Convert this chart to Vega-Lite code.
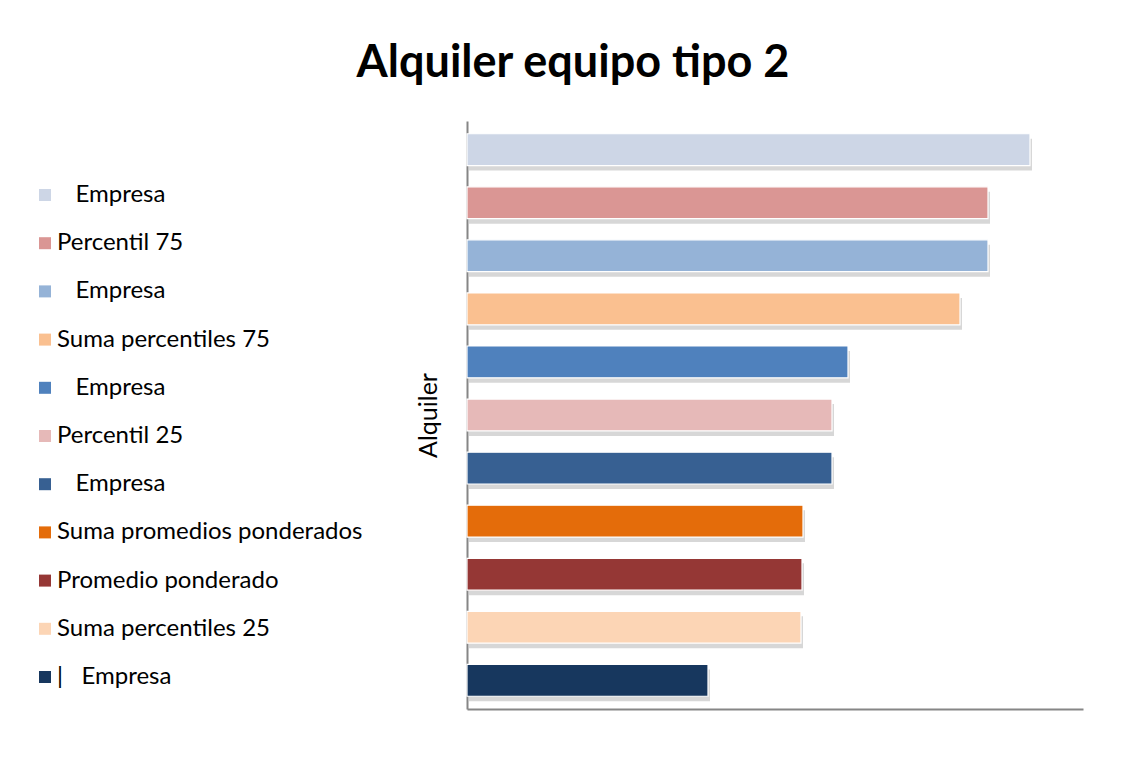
{
  "$schema": "https://vega.github.io/schema/vega-lite/v6.json",
  "autosize": {"type": "none"},
  "width": 616,
  "height": 588,
  "padding": {"left": 467, "top": 121, "right": 45, "bottom": 60},
  "background": "white",
  "title": {
    "text": "Alquiler equipo tipo 2",
    "font": "Lato",
    "fontSize": 45,
    "fontWeight": "bold",
    "color": "#000000",
    "anchor": "middle",
    "dx": -202,
    "baseline": "alphabetic",
    "offset": -1
  },
  "data": {
    "values": [
      {"id": "e1", "valor": 563},
      {"id": "p75", "valor": 521},
      {"id": "e2", "valor": 521},
      {"id": "s75", "valor": 493},
      {"id": "e3", "valor": 381},
      {"id": "p25", "valor": 365},
      {"id": "e4", "valor": 365},
      {"id": "spp", "valor": 336},
      {"id": "pp", "valor": 335},
      {"id": "s25", "valor": 334},
      {"id": "e5", "valor": 241}
    ]
  },
  "encoding": {
    "y": {
      "field": "id",
      "type": "nominal",
      "sort": null,
      "scale": {"paddingInner": 0.4, "paddingOuter": 0.24},
      "axis": {
        "title": "Alquiler",
        "titleFont": "Lato",
        "titleFontSize": 25,
        "titleFontWeight": "normal",
        "titleColor": "#000000",
        "titlePadding": 26,
        "labels": false,
        "ticks": false,
        "domainColor": "#868686",
        "domainWidth": 2
      }
    },
    "x": {
      "field": "valor",
      "type": "quantitative",
      "scale": {"domain": [0, 616], "nice": false},
      "axis": {
        "title": null,
        "labels": false,
        "ticks": false,
        "grid": false,
        "domainColor": "#868686",
        "domainWidth": 2
      }
    }
  },
  "layer": [
    {
      "mark": {"type": "bar", "color": "#8c8c8c", "opacity": 0.35, "xOffset": 2, "yOffset": 5}
    },
    {
      "mark": {"type": "bar", "stroke": "white", "strokeWidth": 1.2},
      "encoding": {
        "color": {
          "field": "id",
          "type": "nominal",
          "scale": {
            "domain": ["e1", "p75", "e2", "s75", "e3", "p25", "e4", "spp", "pp", "s25", "e5"],
            "range": ["#CDD6E6", "#DA9694", "#95B3D7", "#FAC090", "#4F81BD", "#E6B9B8", "#376092", "#E46C0A", "#953735", "#FCD5B5", "#17375E"]
          },
          "legend": {
            "title": null,
            "orient": "none",
            "legendX": -434,
            "legendY": 62,
            "symbolType": "square",
            "symbolSize": 144,
            "symbolStrokeWidth": 0,
            "labelFont": "Lato",
            "labelFontSize": 24,
            "labelColor": "#000000",
            "labelOffset": 0,
            "rowPadding": 24.2,
            "labelLimit": 500,
            "labelExpr": "{'e1':'\u200b\u00a0\u00a0\u00a0Empresa','p75':'Percentil 75','e2':'\u200b\u00a0\u00a0\u00a0Empresa','s75':'Suma percentiles 75','e3':'\u200b\u00a0\u00a0\u00a0Empresa','p25':'Percentil 25','e4':'\u200b\u00a0\u00a0\u00a0Empresa','spp':'Suma promedios ponderados','pp':'Promedio ponderado','s25':'Suma percentiles 25','e5':'|\u00a0\u00a0\u00a0Empresa'}[datum.value]"
          }
        }
      }
    }
  ],
  "config": {
    "view": {"stroke": null}
  }
}
